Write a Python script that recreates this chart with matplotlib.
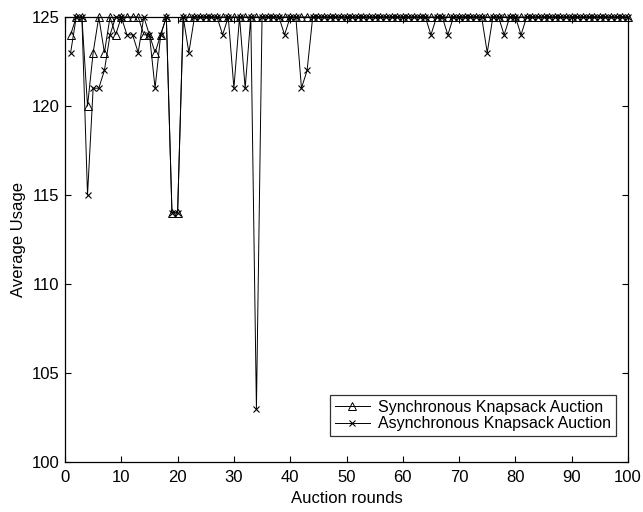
import matplotlib
matplotlib.use("Agg")
import matplotlib.pyplot as plt

plt.rcParams["font.family"] = ["Liberation Sans", "DejaVu Sans"]

rounds = list(range(1, 101))

sync_usage = [
    124, 125, 125, 120, 123, 125, 123, 125, 124, 125,
    125, 125, 125, 124, 124, 123, 124, 125, 114, 114,
    125, 125, 125, 125, 125, 125, 125, 125, 125, 125,
    125, 125, 125, 125, 125, 125, 125, 125, 125, 125,
    125, 125, 125, 125, 125, 125, 125, 125, 125, 125,
    125, 125, 125, 125, 125, 125, 125, 125, 125, 125,
    125, 125, 125, 125, 125, 125, 125, 125, 125, 125,
    125, 125, 125, 125, 125, 125, 125, 125, 125, 125,
    125, 125, 125, 125, 125, 125, 125, 125, 125, 125,
    125, 125, 125, 125, 125, 125, 125, 125, 125, 125,
]

async_usage = [
    123, 125, 125, 115, 121, 121, 122, 124, 125, 125,
    124, 124, 123, 125, 124, 121, 124, 125, 114, 114,
    125, 123, 125, 125, 125, 125, 125, 124, 125, 121,
    125, 121, 125, 103, 125, 125, 125, 125, 124, 125,
    125, 121, 122, 125, 125, 125, 125, 125, 125, 125,
    125, 125, 125, 125, 125, 125, 125, 125, 125, 125,
    125, 125, 125, 125, 124, 125, 125, 124, 125, 125,
    125, 125, 125, 125, 123, 125, 125, 124, 125, 125,
    124, 125, 125, 125, 125, 125, 125, 125, 125, 125,
    125, 125, 125, 125, 125, 125, 125, 125, 125, 125,
]

fig = plt.figure(figsize=(6.43, 5.12), dpi=100)
ax = fig.add_axes([65 / 643, 1 - 462 / 512, 563 / 643, 445 / 512])

ax.plot(rounds, sync_usage, color="black", linewidth=0.7, marker="^",
        markersize=5.5, markerfacecolor="none", markeredgewidth=0.7,
        clip_on=False, label="Synchronous Knapsack Auction")
ax.plot(rounds, async_usage, color="black", linewidth=0.7, marker="x",
        markersize=4.5, markeredgewidth=0.8,
        clip_on=False, label="Asynchronous Knapsack Auction")

ax.set_xlim(0, 100)
ax.set_ylim(100, 125)
ax.set_xticks(range(0, 101, 10))
ax.set_yticks(range(100, 126, 5))
ax.tick_params(direction="in", top=True, right=True, labelsize=12,
               length=4, width=0.8)
ax.tick_params(axis="x", pad=6)
ax.tick_params(axis="y", pad=4)
for s in ax.spines.values():
    s.set_linewidth(0.9)

ax.set_xlabel("Auction rounds", fontsize=12, labelpad=4)
ax.set_ylabel("Average Usage", fontsize=12, labelpad=4)

leg = ax.legend(loc="lower right", bbox_to_anchor=(0.978, 0.058),
                fontsize=11.5, frameon=True, fancybox=False,
                handlelength=2.2, borderpad=0.3, labelspacing=0.1,
                handletextpad=0.5, borderaxespad=0)
leg.get_frame().set_edgecolor("black")
leg.get_frame().set_linewidth(0.9)

fig.savefig("out.png", dpi=100)
